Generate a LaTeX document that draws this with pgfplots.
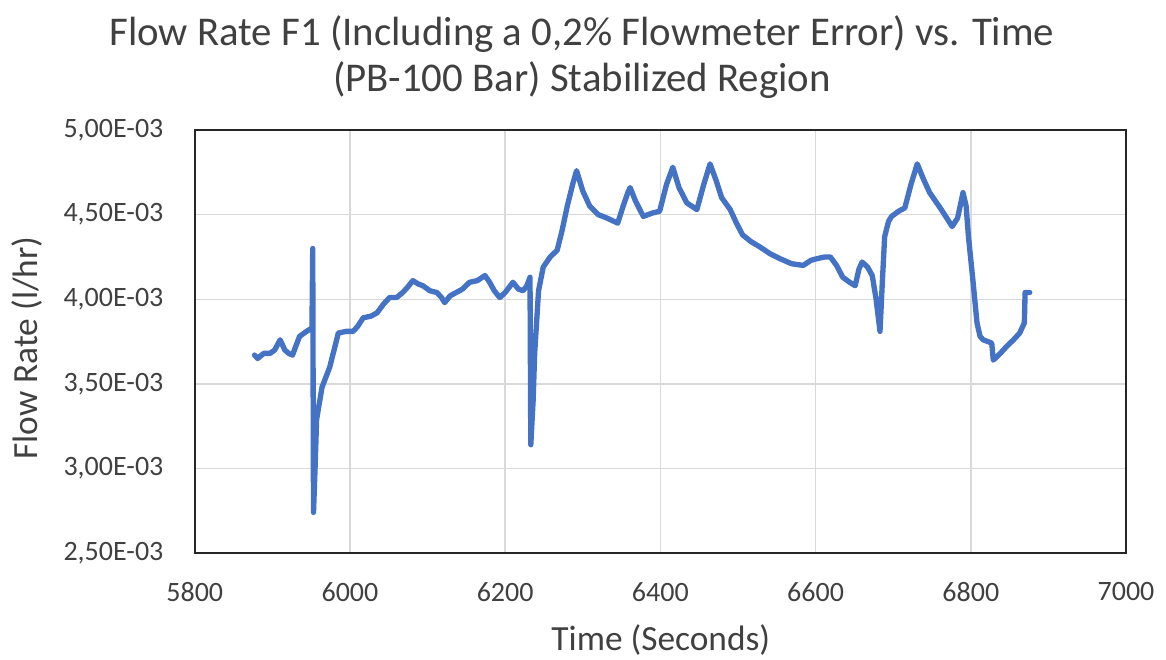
\documentclass[border=0pt]{standalone}
\usepackage{pgfplots}
\pgfplotsset{compat=1.18}
\usepackage{fontspec}
\setmainfont{Carlito}
\definecolor{excelblue}{HTML}{4472C4}
\definecolor{gridgray}{HTML}{D9D9D9}
\definecolor{txtgray}{HTML}{404040}
\begin{document}
\begin{tikzpicture}
\begin{axis}[
  scale only axis,
  width=698pt, height=317pt,
  xmin=5800, xmax=7000,
  ymin=0.0025, ymax=0.005,
  scaled y ticks=false,
  xtick={5800,6000,6200,6400,6600,6800,7000},
  ytick={0.0025,0.003,0.0035,0.004,0.0045,0.005},
  yticklabels={{2,50E-03},{3,00E-03},{3,50E-03},{4,00E-03},{4,50E-03},{5,00E-03}},
  /pgf/number format/1000 sep={},
  /pgf/number format/assume math mode=true,
  tick label style={font=\fontsize{21}{25}\selectfont, text=txtgray},
  major tick length=0pt,
  xticklabel style={anchor=center, yshift=-29pt},
  yticklabel style={anchor=east, xshift=-20pt},
  grid=major,
  grid style={gridgray, line width=1.1pt},
  axis line style={black!85, line width=1.4pt},
  xlabel={Time (Seconds)},
  ylabel={Flow Rate (l/hr)},
  label style={font=\fontsize{26.5}{30}\selectfont, text=txtgray},
  xlabel style={at={(rel axis cs:0.5005,-0.2057)}, anchor=center},
  ylabel style={at={(rel axis cs:-0.1805,0.485)}, anchor=center, rotate=0},
  title={Flow Rate F1 (Including a 0,2\% Flowmeter Error) vs. Time\\(PB-100 Bar) Stabilized Region},
  title style={font=\fontsize{30.6}{34.5}\selectfont, text=txtgray, align=center, at={(rel axis cs:0.4157,1)}, anchor=center, yshift=49pt},
]
\addplot[excelblue, line width=4pt, line join=round, line cap=round] coordinates {
(5877,0.00367) (5881,0.00365) (5889,0.00368) (5897,0.00368) (5903,0.00370) (5910,0.00376)
(5916,0.00370) (5921,0.00368) (5926,0.00367) (5930,0.00372) (5935,0.00378) (5944,0.00381)
(5951,0.00383) (5952,0.00430) (5953,0.00274) (5955,0.00300) (5957,0.00329) (5964,0.00348)
(5974,0.00360) (5985,0.00380) (5995,0.00381) (6004,0.00381) (6010,0.00384) (6017,0.00389)
(6027,0.00390) (6035,0.00392) (6043,0.00397) (6051,0.00401) (6060,0.00401) (6068,0.00404)
(6074,0.00407) (6081,0.00411) (6088,0.00409) (6094,0.00408) (6103,0.00405) (6112,0.00404)
(6118,0.00401) (6122,0.00398) (6129,0.00402) (6137,0.00404) (6145,0.00406) (6154,0.00410)
(6164,0.00411) (6174,0.00414) (6180,0.00410) (6186,0.00405) (6193,0.00401) (6200,0.00404)
(6210,0.00410) (6217,0.00406) (6223,0.00405) (6228,0.00408) (6232,0.00413) (6233,0.00314)
(6236,0.00340) (6238,0.00368) (6243,0.00405) (6249,0.00419) (6258,0.00425) (6267,0.00429)
(6273,0.00440) (6280,0.00455) (6287,0.00468) (6292,0.00476) (6300,0.00464) (6309,0.00455)
(6320,0.00450) (6331,0.00448) (6345,0.00445) (6352,0.00455) (6358,0.00463) (6361,0.00466)
(6368,0.00458) (6378,0.00449) (6390,0.00451) (6399,0.00452) (6408,0.00468) (6416,0.00478)
(6424,0.00466) (6434,0.00457) (6447,0.00453) (6456,0.00468) (6464,0.00480) (6472,0.00470)
(6479,0.00460) (6490,0.00453) (6498,0.00445) (6506,0.00438) (6517,0.00434) (6528,0.00431)
(6541,0.00427) (6554,0.00424) (6569,0.00421) (6584,0.00420) (6594,0.00423) (6602,0.00424)
(6612,0.00425) (6619,0.00425) (6627,0.00420) (6635,0.00413) (6644,0.00410) (6651,0.00408)
(6656,0.00418) (6660,0.00422) (6667,0.00419) (6673,0.00414) (6678,0.00400) (6683,0.00381)
(6686,0.00410) (6689,0.00437) (6694,0.00446) (6698,0.00449) (6707,0.00452) (6715,0.00454)
(6723,0.00468) (6731,0.00480) (6739,0.00471) (6747,0.00463) (6762,0.00453) (6776,0.00443)
(6783,0.00448) (6790,0.00463) (6794,0.00455) (6797,0.00437) (6803,0.00410) (6808,0.00386)
(6812,0.00378) (6816,0.00376) (6822,0.00375) (6827,0.00374) (6829,0.00364) (6838,0.00368)
(6846,0.00372) (6855,0.00376) (6863,0.00380) (6869,0.00386) (6870,0.00404) (6876,0.00404)
};
\end{axis}
\path (current axis.south west) ++(-146pt,-78pt) coordinate (bbA);
\path (current axis.north east) ++(30pt,97.5pt) coordinate (bbB);
\path (bbA) rectangle (bbB);
\end{tikzpicture}
\end{document}
